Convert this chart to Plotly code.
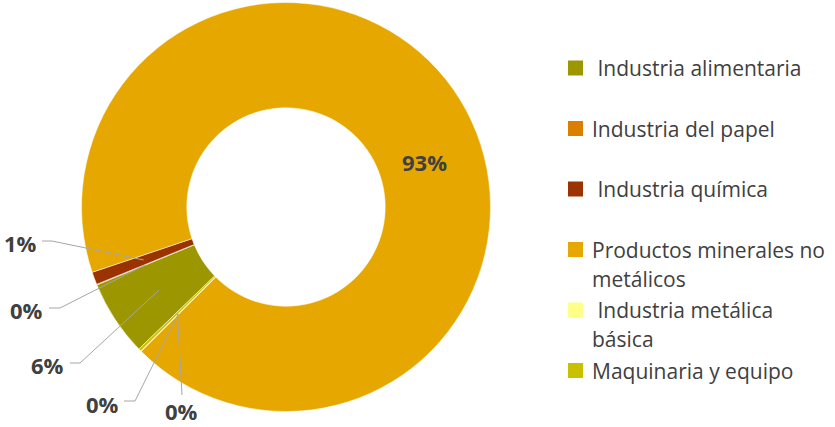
import math
import plotly.graph_objects as go

# Share of each industry (percent)
categories = [
    " Industria alimentaria",
    "Industria del papel",
    " Industria química",
    "Productos minerales no metálicos",
    " Industria metálica básica",
    "Maquinaria y equipo",
]
values = [6.0, 0.05, 1.0, 92.7, 0.05, 0.2]
legend_lines = [
    [" Industria alimentaria"],
    ["Industria del papel"],
    [" Industria química"],
    ["Productos minerales no", "metálicos"],
    [" Industria metálica", "básica"],
    ["Maquinaria y equipo"],
]
colors = ["#9C9600", "#DB7F00", "#9B3300", "#E6A800", "#FFFF88", "#C8C000"]

W, H = 835, 427
CX, CY = 286, 207          # donut centre (px)
R_OUT, HOLE = 204.5, 0.485
ROTATION = 226             # first slice start, degrees clockwise from 12 o'clock
TEXT = "#404040"
LINE = "#A6A6A6"
FONT = "Open Sans"

# label placement (px): text centre, and start of its leader line (None = inside)
label_pos = [(47, 365), (26, 310), (20, 243), (424, 162), (102, 404), (181, 411)]
leader_start = [
    [(70, 363), (80, 363)],
    [(49, 308), (60, 308)],
    [(42, 241), (52, 241)],
    None,
    [(124, 401), (135, 401)],
    [(182, 395)],
]


def px(x, y):
    return x / W, 1 - y / H


total = sum(values)
pcts = [v / total for v in values]

fig = go.Figure(
    go.Pie(
        labels=categories,
        values=values,
        hole=HOLE,
        sort=False,
        direction="clockwise",
        rotation=ROTATION,
        marker=dict(colors=colors, line=dict(color="white", width=0.5)),
        textinfo="none",
        hoverinfo="label+percent",
        showlegend=False,
        domain=dict(
            x=[(CX - R_OUT) / W, (CX + R_OUT) / W],
            y=[1 - (CY + R_OUT) / H, 1 - (CY - R_OUT) / H],
        ),
    )
)

shapes = []
annotations = []

# percentage labels with leader lines to the middle of each slice
r_mid = R_OUT * (1 + HOLE) / 2
acc = 0.0
for i, p in enumerate(pcts):
    mid = math.radians(ROTATION + 360 * (acc + p / 2))
    acc += p
    ex, ey = CX + r_mid * math.sin(mid), CY - r_mid * math.cos(mid)
    lx, ly = label_pos[i]
    annotations.append(dict(
        x=px(lx, ly)[0], y=px(lx, ly)[1], xref="paper", yref="paper",
        text=f"{round(p * 100)}%", showarrow=False,
        xanchor="center", yanchor="middle",
        font=dict(family=FONT, size=22, color=TEXT, weight="bold"),
    ))
    if leader_start[i]:
        pts = leader_start[i] + [(ex, ey)]
        path = "M " + " L ".join(f"{px(x, y)[0]},{px(x, y)[1]}" for x, y in pts)
        shapes.append(dict(type="path", xref="paper", yref="paper", path=path,
                           line=dict(color=LINE, width=1)))

# legend: square swatch + one annotation per text line
SW_X, SW, TX = 568, 15, 590
for i, lines in enumerate(legend_lines):
    yc = 68 + 60.5 * i
    x0, y0 = px(SW_X, yc - SW / 2)
    x1, y1 = px(SW_X + SW, yc + SW / 2)
    shapes.append(dict(type="rect", xref="paper", yref="paper",
                       x0=x0, x1=x1, y0=y1, y1=y0,
                       fillcolor=colors[i], line=dict(width=0)))
    for j, ln in enumerate(lines):
        t = ln.replace(" ", "\u00a0", 1) if ln.startswith(" ") else ln
        annotations.append(dict(
            x=TX / W, y=1 - (yc + 29 * j) / H, xref="paper", yref="paper",
            text=t, showarrow=False, xanchor="left", yanchor="middle",
            font=dict(family=FONT, size=21, color=TEXT),
        ))

fig.update_layout(
    width=W, height=H,
    margin=dict(l=0, r=0, t=0, b=0),
    paper_bgcolor="white", plot_bgcolor="white",
    shapes=shapes, annotations=annotations,
)

fig.write_html("out.html")
